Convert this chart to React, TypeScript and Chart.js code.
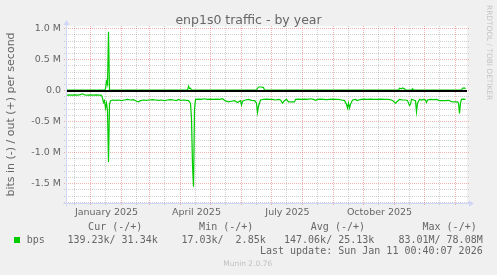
import React, { useEffect, useRef } from "react";
import { Chart, registerables } from "chart.js";

Chart.register(...registerables);

// ---------- text ----------
const chartTitle = "enp1s0 traffic - by year";
const yAxisTitle = "bits in (-) / out (+) per second";
const watermark = "RRDTOOL / TOBI OETIKER";
const versionText = "Munin 2.0.76";
const seriesName = "bps";
const legendHeaders = ["Cur (-/+)", "Min (-/+)", "Avg (-/+)", "Max (-/+)"];
const legendValues = ["139.23k/ 31.34k", "17.03k/  2.85k", "147.06k/ 25.13k", "83.01M/ 78.08M"];
const lastUpdate = "Last update: Sun Jan 11 00:40:07 2026";

// ---------- axes (x = days since 2025-01-01) ----------
const xMin = -23.5;
const xMax = 376.5;
const monthStartDays = [0, 31, 59, 90, 120, 151, 181, 212, 243, 273, 304, 334, 365];
const midMonthDays = [-16, 15, 46, 74, 105, 135, 166, 196, 227, 258, 288, 319, 349];
const quarterLabels = ["January 2025", "April 2025", "July 2025", "October 2025"];
const quarterLabelDays = [16, 106, 197, 289];

const yMin = -1811000;
const yMax = 1043500;
const yMajorStep = 500000;
const yMinorStep = 100000;
const yTickLabels: Record<string, string> = {
  "-1500000": "-1.5 M",
  "-1000000": "-1.0 M",
  "-500000": "-0.5 M",
  "0": "0.0",
  "500000": "0.5 M",
  "1000000": "1.0 M",
};

// ---------- data ----------
const outDays = [
  -24, 14, 15, 16, 17, 18, 19, 97, 98, 99,
  100, 101, 166, 167, 168, 171, 173, 174, 308, 309,
  311, 312, 314, 315, 321, 322, 323, 371, 372, 374,
  375,
];
const outBps = [
  8000, 8000, 30000, 150000, 100000, 950000, 8000, 8000, 70000, 35000,
  40000, 8000, 8000, 40000, 60000, 60000, 50000, 8000, 8000, 40000,
  30000, 45000, 30000, 8000, 8000, 30000, 8000, 8000, 40000, 45000,
  30000,
];

const inDays = [
  -24, -22, -19, -16, -13, -10, -8, -6, -3, 0,
  3, 6, 9, 11, 12, 13, 14, 15, 16, 17,
  18, 19, 20, 22, 25, 28, 31, 34, 37, 40,
  43, 46, 48, 50, 53, 56, 59, 62, 65, 68,
  71, 74, 77, 80, 83, 86, 88, 90, 93, 96,
  98, 100, 101, 102, 103, 104, 105, 108, 111, 114,
  117, 120, 123, 126, 129, 132, 135, 138, 141, 144,
  147, 150, 151, 152, 155, 158, 161, 164, 166, 167,
  168, 170, 173, 176, 179, 182, 185, 188, 190, 192,
  194, 196, 198, 201, 204, 205, 208, 211, 214, 217,
  220, 223, 225, 227, 230, 233, 236, 239, 242, 245,
  248, 251, 254, 256, 257, 258, 259, 260, 262, 265,
  267, 268, 271, 274, 277, 280, 283, 286, 290, 294,
  298, 301, 303, 305, 307, 309, 312, 315, 317, 319,
  320, 321, 323, 325, 326, 327, 329, 331, 333, 335,
  336, 337, 340, 343, 346, 349, 352, 355, 358, 361,
  364, 367, 368, 369, 370, 371, 373, 375,
];
const inBps = [
  -75000, -68000, -70000, -66000, -70000, -64000, -50000, -66000, -70000, -67000,
  -72000, -68000, -70000, -74000, -120000, -190000, -160000, -280000, -200000, -320000,
  -1150000, -220000, -160000, -150000, -155000, -150000, -160000, -150000, -140000, -150000,
  -145000, -170000, -180000, -160000, -150000, -155000, -150000, -145000, -150000, -155000,
  -150000, -160000, -150000, -145000, -150000, -160000, -140000, -155000, -150000, -155000,
  -160000, -200000, -450000, -1200000, -1550000, -300000, -140000, -135000, -140000, -130000,
  -140000, -135000, -140000, -135000, -140000, -130000, -165000, -180000, -170000, -160000,
  -190000, -160000, -230000, -170000, -150000, -140000, -155000, -160000, -200000, -350000,
  -250000, -150000, -140000, -135000, -140000, -140000, -150000, -140000, -150000, -200000,
  -160000, -140000, -180000, -180000, -180000, -140000, -135000, -140000, -135000, -140000,
  -130000, -140000, -155000, -140000, -135000, -140000, -145000, -140000, -135000, -140000,
  -140000, -150000, -160000, -220000, -280000, -200000, -280000, -220000, -150000, -140000,
  -160000, -150000, -140000, -135000, -140000, -135000, -140000, -140000, -135000, -140000,
  -140000, -150000, -170000, -200000, -170000, -140000, -150000, -150000, -160000, -240000,
  -220000, -140000, -150000, -160000, -340000, -200000, -140000, -150000, -140000, -150000,
  -190000, -150000, -140000, -145000, -140000, -160000, -160000, -160000, -155000, -175000,
  -180000, -180000, -200000, -365000, -200000, -140000, -135000, -140000,
];

// ---------- styles ----------
const SANS = '"DejaVu Sans", sans-serif';
const MONO = '"DejaVu Sans Mono", monospace';
const FONT_COLOR = "#666666";
const BACK = "#F0F0F0";
const AXIS = "#CFD6F8";
const GRID = "rgba(128,128,128,0.36)";
const MGRID = "rgba(225,40,40,0.36)";
const LINE = "#00CC00";

const rrdPlugin = {
  id: "rrdDecor",
  beforeDraw(chart: any) {
    const { ctx, chartArea: a } = chart;
    ctx.save();
    ctx.fillStyle = BACK;
    ctx.fillRect(0, 0, chart.width, chart.height);
    ctx.fillStyle = "#FFFFFF";
    ctx.fillRect(a.left, a.top, a.right - a.left, a.bottom - a.top);
    ctx.restore();
  },
  beforeDatasetsDraw(chart: any) {
    const { ctx, chartArea: a, scales } = chart;
    const xs = scales.x;
    const ys = scales.y;
    ctx.save();
    ctx.lineWidth = 1;
    ctx.setLineDash([1, 1]);
    const hLine = (v: number, color: string) => {
      const p = Math.floor(ys.getPixelForValue(v)) + 0.5;
      ctx.strokeStyle = color;
      ctx.beginPath();
      ctx.moveTo(a.left - 3, p);
      ctx.lineTo(a.right + 2, p);
      ctx.stroke();
    };
    const vLine = (d: number, color: string) => {
      const p = Math.floor(xs.getPixelForValue(d)) + 0.5;
      if (p < a.left || p > a.right) return;
      ctx.strokeStyle = color;
      ctx.beginPath();
      ctx.moveTo(p, a.top);
      ctx.lineTo(p, a.bottom + 3);
      ctx.stroke();
    };
    const kMin = Math.ceil(yMin / yMinorStep);
    const kMax = Math.floor(yMax / yMinorStep);
    for (let k = kMin; k <= kMax; k++) {
      const v = k * yMinorStep;
      if (v % yMajorStep !== 0) hLine(v, GRID);
    }
    midMonthDays.forEach((d) => vLine(d, GRID));
    for (let k = kMin; k <= kMax; k++) {
      const v = k * yMinorStep;
      if (v % yMajorStep === 0) hLine(v, MGRID);
    }
    monthStartDays.forEach((d) => vLine(d, MGRID));
    ctx.restore();
  },
  afterDatasetsDraw(chart: any) {
    const { ctx, chartArea: a, scales } = chart;
    const y0 = scales.y.getPixelForValue(0);
    ctx.save();
    ctx.strokeStyle = "#000000";
    ctx.lineWidth = 2;
    ctx.beginPath();
    ctx.moveTo(a.left, Math.round(y0));
    ctx.lineTo(a.right, Math.round(y0));
    ctx.stroke();
    ctx.restore();
  },
  afterDraw(chart: any) {
    const { ctx, chartArea: a } = chart;
    ctx.save();
    // axes with arrows
    ctx.strokeStyle = AXIS;
    ctx.fillStyle = AXIS;
    ctx.lineWidth = 1;
    ctx.beginPath();
    ctx.moveTo(a.left - 0.5, a.bottom + 3);
    ctx.lineTo(a.left - 0.5, a.top - 3);
    ctx.moveTo(a.left - 4, a.bottom + 0.5);
    ctx.lineTo(a.right + 3, a.bottom + 0.5);
    ctx.stroke();
    ctx.beginPath();
    ctx.moveTo(a.left - 3.5, a.top - 1);
    ctx.lineTo(a.left + 2.5, a.top - 1);
    ctx.lineTo(a.left - 0.5, a.top - 6);
    ctx.closePath();
    ctx.fill();
    ctx.beginPath();
    ctx.moveTo(a.right + 2, a.bottom - 2.5);
    ctx.lineTo(a.right + 2, a.bottom + 3.5);
    ctx.lineTo(a.right + 7, a.bottom + 0.5);
    ctx.closePath();
    ctx.fill();

    // title
    ctx.fillStyle = FONT_COLOR;
    ctx.font = `12.5px ${SANS}`;
    ctx.textAlign = "center";
    ctx.textBaseline = "alphabetic";
    ctx.fillText(chartTitle, 248.5, 24);

    // watermark
    ctx.save();
    ctx.translate(488.5, 5);
    ctx.rotate(Math.PI / 2);
    ctx.fillStyle = "rgba(102,102,102,0.33)";
    ctx.font = `7.4px ${SANS}`;
    ctx.textAlign = "left";
    ctx.textBaseline = "middle";
    ctx.fillText(watermark, 0, 0);
    ctx.restore();

    // legend
    ctx.fillStyle = FONT_COLOR;
    ctx.font = `10px ${MONO}`;
    ctx.textBaseline = "middle";
    ctx.textAlign = "right";
    const headerEnds = [142.3, 253.3, 365, 476.7];
    legendHeaders.forEach((t, i) => ctx.fillText(t, headerEnds[i], 227.3));
    const valueEnds = [157.7, 265.7, 374.3, 482.7];
    legendValues.forEach((t, i) => ctx.fillText(t, valueEnds[i], 240));
    ctx.fillText(lastUpdate, 482.7, 251.7);
    ctx.textAlign = "left";
    ctx.fillText(seriesName, 26.7, 240);
    ctx.fillStyle = LINE;
    ctx.fillRect(14, 237, 6, 6);

    // version
    ctx.fillStyle = "rgba(102,102,102,0.35)";
    ctx.font = `7.5px ${SANS}`;
    ctx.textAlign = "center";
    ctx.fillText(versionText, 247.7, 264);
    ctx.restore();
  },
};

export default function App() {
  const ref = useRef<HTMLCanvasElement | null>(null);

  useEffect(() => {
    const canvas = ref.current;
    if (!canvas) return;

    const outData = outDays.map((d, i) => ({ x: d, y: outBps[i] }));
    const inData = inDays.map((d, i) => ({ x: d, y: inBps[i] }));
    const yLabelTicks = Object.keys(yTickLabels).map((k) => Number(k)).sort((p, q) => p - q);

    const chart = new Chart(canvas, {
      type: "line",
      data: {
        datasets: [
          {
            label: "in",
            data: inData,
            borderColor: LINE,
            borderWidth: 1.2,
            pointRadius: 0,
            tension: 0,
            fill: false,
          },
          {
            label: "out",
            data: outData,
            borderColor: LINE,
            borderWidth: 1.2,
            pointRadius: 0,
            tension: 0,
            fill: false,
          },
        ],
      },
      plugins: [rrdPlugin],
      options: {
        animation: false,
        responsive: false,
        devicePixelRatio: 1,
        layout: { padding: { left: 0, top: 26, right: 30, bottom: 0 } },
        plugins: {
          legend: { display: false },
          tooltip: { enabled: false },
          title: { display: false },
        },
        scales: {
          x: {
            type: "linear",
            min: xMin,
            max: xMax,
            afterBuildTicks: (s: any) => {
              s.ticks = quarterLabelDays.map((v) => ({ value: v }));
            },
            afterFit: (s: any) => {
              s.height = 72;
            },
            ticks: {
              autoSkip: false,
              maxRotation: 0,
              minRotation: 0,
              padding: 4,
              color: FONT_COLOR,
              font: { family: SANS, size: 9.5 },
              callback: (v: any) => {
                const i = quarterLabelDays.indexOf(Number(v));
                return i >= 0 ? quarterLabels[i] : "";
              },
            },
            grid: { display: false, drawTicks: false },
            border: { display: false },
          },
          y: {
            type: "linear",
            min: yMin,
            max: yMax,
            afterBuildTicks: (s: any) => {
              s.ticks = yLabelTicks.map((v) => ({ value: v }));
            },
            afterFit: (s: any) => {
              s.width = 67;
            },
            title: {
              display: true,
              text: yAxisTitle,
              color: FONT_COLOR,
              font: { family: SANS, size: 11 },
              padding: { top: 4.4, bottom: 0 },
            },
            ticks: {
              autoSkip: false,
              padding: 6,
              color: FONT_COLOR,
              font: { family: SANS, size: 9.5 },
              callback: (v: any) => yTickLabels[String(Math.round(Number(v)))] ?? "",
            },
            grid: { display: false, drawTicks: false },
            border: { display: false },
          },
        },
      },
    } as any);

    return () => chart.destroy();
  }, []);

  return (
    <div style={{ position: "absolute", left: 0, top: 0, width: 497, height: 275, background: BACK }}>
      <canvas ref={ref} width={497} height={275} style={{ display: "block", width: 497, height: 275 }} />
    </div>
  );
}
